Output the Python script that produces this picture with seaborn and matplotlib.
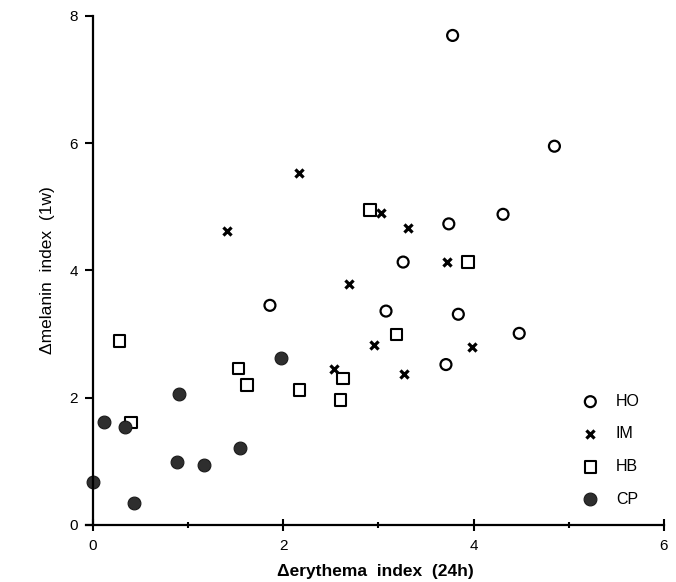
import matplotlib
matplotlib.use("Agg")
import matplotlib.pyplot as plt
import seaborn as sns
from matplotlib.ticker import MultipleLocator

# values
ho_x = [3.78, 4.85, 3.74, 4.31, 3.26, 1.86, 3.08, 3.84, 4.48, 3.71]
ho_y = [7.69, 5.95, 4.73, 4.88, 4.13, 3.45, 3.36, 3.31, 3.01, 2.52]

im_x = [1.41, 2.17, 3.03, 3.31, 3.72, 2.69, 2.95, 3.98, 3.27, 2.53]
im_y = [4.62, 5.53, 4.90, 4.67, 4.13, 3.79, 2.82, 2.80, 2.37, 2.45]

hb_x = [2.91, 3.94, 3.19, 0.28, 1.53, 1.62, 2.17, 0.40, 2.60, 2.63]
hb_y = [4.95, 4.13, 2.99, 2.89, 2.46, 2.20, 2.12, 1.61, 1.96, 2.30]

cp_x = [1.98, 0.90, 0.12, 0.34, 1.54, 0.88, 1.17, 0.00, 0.43]
cp_y = [2.62, 2.05, 1.62, 1.54, 1.21, 0.99, 0.94, 0.67, 0.34]

sns.set_style("ticks", rc={
    'text.color': 'black', 'axes.labelcolor': 'black',
    'xtick.color': 'black', 'ytick.color': 'black', 'axes.edgecolor': 'black',
})
plt.rcParams['font.family'] = ['Liberation Sans', 'DejaVu Sans']

fig = plt.figure(figsize=(6.76, 5.82), dpi=100)
ax = fig.add_axes([0.1277, 0.098, 0.982 - 0.1277, 0.875])

sns.scatterplot(x=ho_x, y=ho_y, marker='o', s=62, facecolors='none',
                edgecolors='black', linewidths=1.6, label="HO", ax=ax, clip_on=False)
sns.scatterplot(x=im_x, y=im_y, marker='x', s=34, color='black',
                linewidths=2.3, label="IM", ax=ax, clip_on=False)
sns.scatterplot(x=hb_x, y=hb_y, marker='s', s=70, facecolors='none',
                edgecolors='black', linewidths=1.5, label="HB", ax=ax, clip_on=False)
sns.scatterplot(x=cp_x, y=cp_y, marker='o', s=85, color='#2e2e2e',
                edgecolors='#1a1a1a', linewidths=0.8, label="CP", ax=ax, clip_on=False)

ax.set_xlim(-0.07, 6)
ax.set_ylim(0, 8)
ax.spines['left'].set_position(('data', 0))
ax.spines['right'].set_visible(False)
ax.spines['top'].set_visible(False)
for side in ('left', 'bottom'):
    ax.spines[side].set_linewidth(1.6)

ax.xaxis.set_major_locator(MultipleLocator(2))
ax.xaxis.set_minor_locator(MultipleLocator(1))
ax.yaxis.set_major_locator(MultipleLocator(2))
ax.tick_params(axis='x', which='major', direction='inout', length=8, width=1.5,
               labelsize=11, pad=6)
ax.tick_params(axis='x', which='minor', direction='inout', length=5, width=1.5)
ax.tick_params(axis='y', which='major', direction='out', length=6, width=1.5,
               labelsize=11, pad=5)

ax.set_xlabel("\u0394erythema  index  (24h)", fontsize=12.5, fontweight='bold',
              labelpad=8)
ax.set_ylabel("\u0394melanin  index  (1w)", fontsize=12.5, labelpad=10)

ax.legend(loc='upper left', bbox_to_anchor=(0.834, 0.270), frameon=False,
          fontsize=11.5, labelspacing=1.1, handletextpad=0.6, borderaxespad=0)

fig.savefig("out.png", dpi=100)
